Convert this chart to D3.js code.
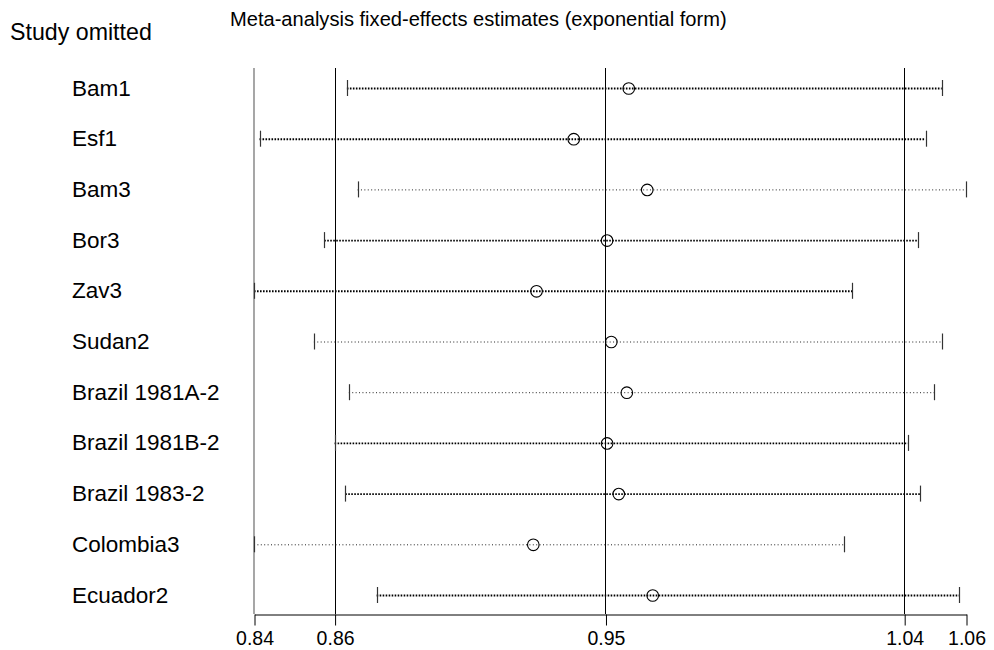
<!DOCTYPE html>
<html>
<head>
<meta charset="utf-8">
<script src="https://cdn.jsdelivr.net/npm/d3@7"></script>
<style>
  html, body { margin: 0; padding: 0; background: #fff; }
  svg { display: block; }
  text { font-family: "Liberation Sans", Arial, sans-serif; fill: #000; }
</style>
</head>
<body>
<svg id="chart" width="994" height="650"></svg>
<script>
// ---- data ----
const studies = ["Bam1", "Esf1", "Bam3", "Bor3", "Zav3", "Sudan2", "Brazil 1981A-2", "Brazil 1981B-2", "Brazil 1983-2", "Colombia3", "Ecuador2"];
const estimates = [0.9558, 0.9388, 0.9615, 0.9491, 0.9273, 0.9504, 0.9552, 0.9491, 0.9527, 0.9263, 0.9632];
const lowerCI   = [0.8687, 0.8417, 0.8720, 0.8617, 0.8400, 0.8585, 0.8693, 0.8649, 0.8682, 0.8400, 0.8779];
const upperCI   = [1.0525, 1.0475, 1.0600, 1.0452, 1.0249, 1.0525, 1.0502, 1.0420, 1.0459, 1.0222, 1.0579];
// axis ticks: min lower, overall lower CI, overall estimate, overall upper CI, max upper
const tickValues = [0.8400, 0.8649, 0.9486, 1.0409, 1.0600];
const tickLabels = ["0.84", "0.86", "0.95", "1.04", "1.06"];
const referenceLines = [0.8649, 0.9486, 1.0409];
const titleText = "Meta-analysis fixed-effects estimates (exponential form)";
const yTitleText = "Study omitted";

// ---- style (not data) ----
const lightRows = new Set(["Bam3", "Sudan2", "Brazil 1981A-2", "Colombia3"]);

const svg = d3.select("#chart");
const x = d3.scaleLinear().domain([0.84, 1.06]).range([254, 966]);
const y = d3.scalePoint().domain(studies).range([88, 595]);
const axisY = 614, topY = 68;

const rows = studies.map((s, i) => ({ s, est: estimates[i], lo: lowerCI[i], hi: upperCI[i] }));

// left boundary line
svg.append("line")
  .attr("x1", x(0.84)).attr("x2", x(0.84))
  .attr("y1", topY).attr("y2", axisY)
  .attr("stroke", "#777").attr("stroke-width", 1.3);

// reference lines
svg.selectAll("line.ref").data(referenceLines).join("line")
  .attr("class", "ref")
  .attr("x1", d => Math.round(x(d)) + 0.5).attr("x2", d => Math.round(x(d)) + 0.5)
  .attr("y1", topY).attr("y2", axisY)
  .attr("stroke", "#000").attr("stroke-width", 1);

// x axis
const axis = d3.axisBottom(x)
  .tickValues(tickValues)
  .tickFormat((d, i) => tickLabels[i])
  .tickSize(11).tickSizeOuter(0).tickPadding(6);
const gAxis = svg.append("g").attr("transform", `translate(0.5,${axisY + 0.5})`).call(axis);
gAxis.select(".domain").attr("stroke", "#000");
gAxis.selectAll(".tick line").attr("stroke", "#000");
gAxis.selectAll(".tick text")
  .style("font-family", '"Liberation Sans", Arial, sans-serif')
  .style("font-size", "19.5px").attr("fill", "#000");

// CI lines
const g = svg.append("g");
g.selectAll("line.ci").data(rows).join("line")
  .attr("class", "ci")
  .attr("x1", d => x(d.lo)).attr("x2", d => x(d.hi))
  .attr("y1", d => y(d.s) + 0.5).attr("y2", d => y(d.s) + 0.5)
  .attr("stroke", d => lightRows.has(d.s) ? "#222" : "#000")
  .attr("stroke-width", d => lightRows.has(d.s) ? 1 : 1.9)
  .attr("stroke-dasharray", d => lightRows.has(d.s) ? "1,2.4" : "1.6,1.4");

// caps
g.selectAll("line.capL").data(rows).join("line")
  .attr("x1", d => Math.round(x(d.lo)) + 0.5).attr("x2", d => Math.round(x(d.lo)) + 0.5)
  .attr("y1", d => y(d.s) - 8).attr("y2", d => y(d.s) + 8)
  .attr("stroke", "#333").attr("stroke-width", 1.2);
g.selectAll("line.capR").data(rows).join("line")
  .attr("x1", d => Math.round(x(d.hi)) + 0.5).attr("x2", d => Math.round(x(d.hi)) + 0.5)
  .attr("y1", d => y(d.s) - 8).attr("y2", d => y(d.s) + 8)
  .attr("stroke", "#333").attr("stroke-width", 1.2);

// estimate markers
g.selectAll("circle.est").data(rows).join("circle")
  .attr("cx", d => x(d.est)).attr("cy", d => y(d.s) + 0.5)
  .attr("r", 5.8)
  .attr("fill", "none").attr("stroke", "#000").attr("stroke-width", 1.1);

// row labels
svg.selectAll("text.lab").data(rows).join("text")
  .attr("class", "lab")
  .attr("x", 72).attr("y", d => y(d.s) + 7.5)
  .style("font-size", "22.5px")
  .text(d => d.s);

// titles
svg.append("text").attr("x", 10).attr("y", 40).style("font-size", "23.2px").text(yTitleText);
svg.append("text").attr("x", 230).attr("y", 26).style("font-size", "20.1px").text(titleText);
</script>
</body>
</html>
